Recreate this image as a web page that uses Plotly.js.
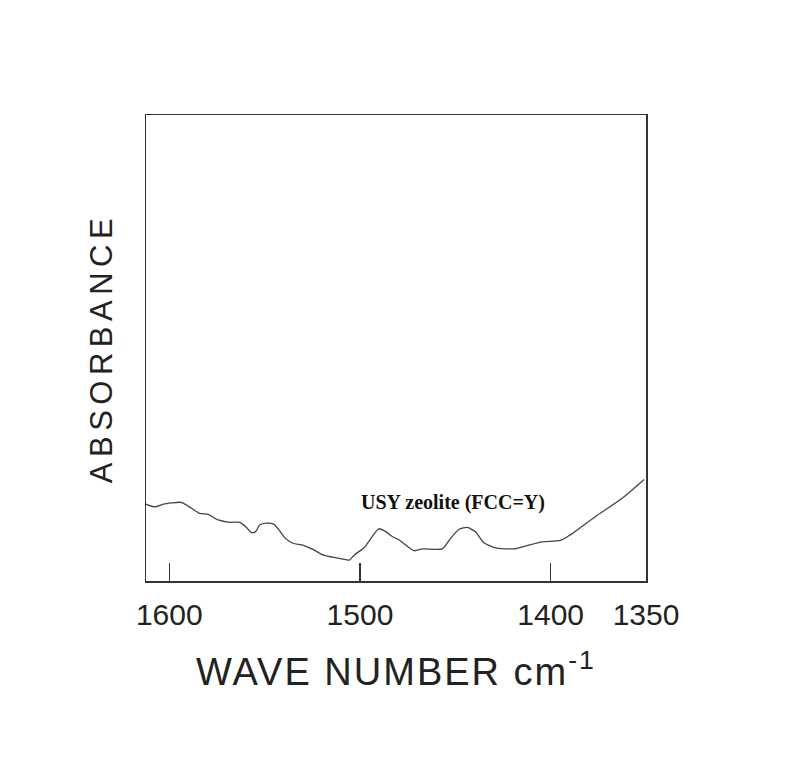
<!DOCTYPE html>
<html>
<head>
<meta charset="utf-8">
<script src="https://cdn.plot.ly/plotly-3.0.1.min.js"></script>
<style>
html,body{margin:0;padding:0;background:#fff;}
#chart{width:801px;height:758px;}
text.xtitle{letter-spacing:2px;}
text.ytitle{letter-spacing:5.5px;}
</style>
</head>
<body>
<div id="chart"></div>
<script>
const wavenumber = [1612.3,1607.5,1603.1,1594.4,1592.7,1588.3,1584.0,1579.6,1574.4,1568.3,1563.0,1559.5,1556.9,1554.7,1552.6,1549.1,1545.3,1542.7,1539.2,1535.2,1530.0,1524.7,1519.5,1514.3,1509.0,1505.5,1502.9,1497.7,1490.2,1486.4,1482.9,1479.4,1471.6,1467.2,1456.8,1452.4,1448.0,1443.7,1439.3,1435.0,1428.9,1419.3,1413.2,1404.5,1394.9,1389.7,1376.6,1362.7,1351.0];
const absorbance = [0.165,0.159,0.165,0.169,0.167,0.156,0.145,0.143,0.131,0.126,0.126,0.115,0.104,0.106,0.120,0.124,0.122,0.111,0.092,0.081,0.077,0.068,0.056,0.051,0.047,0.045,0.056,0.072,0.112,0.106,0.095,0.088,0.065,0.069,0.069,0.092,0.111,0.115,0.105,0.082,0.071,0.069,0.075,0.084,0.087,0.099,0.138,0.177,0.218];
const tickValues = [1600,1500,1400,1350];
const tickLabels = ['1600','1500','1400','1350'];
const sampleLabel = 'USY zeolite (FCC=Y)';
const xTitle = 'WAVE NUMBER cm<sup>-1</sup>';
const yTitle = 'ABSORBANCE';

const trace = {
  x: wavenumber, y: absorbance, type: 'scatter', mode: 'lines',
  line: {color: '#444', width: 1.3, shape: 'spline', smoothing: 0.6},
  hoverinfo: 'skip'
};
const layout = {
  width: 801, height: 758,
  margin: {l: 146, r: 155, t: 115, b: 177},
  paper_bgcolor: '#fff', plot_bgcolor: '#fff',
  showlegend: false,
  font: {family: 'Liberation Sans, Arial, sans-serif', color: '#222'},
  xaxis: {
    range: [1612.2, 1350], autorange: false,
    tickvals: tickValues, ticktext: tickLabels,
    ticks: 'inside', ticklen: 18, tickwidth: 1.5, tickcolor: '#333',
    tickfont: {size: 30, color: '#222'},
    ticklabelstandoff: 6,
    showline: true, mirror: true, linecolor: '#333', linewidth: 1.5,
    showgrid: false, zeroline: false,
    title: {text: xTitle, font: {size: 38, color: '#222'}, standoff: 29}
  },
  yaxis: {
    range: [0, 1], autorange: false,
    showticklabels: false, ticks: '',
    showline: true, mirror: true, linecolor: '#333', linewidth: 1.5,
    showgrid: false, zeroline: false,
    title: {text: yTitle, font: {size: 31, color: '#222'}, standoff: 22}
  },
  annotations: [{
    x: 1451.2, y: 0.169, xref: 'x', yref: 'y', text: sampleLabel, showarrow: false,
    font: {family: 'Liberation Serif, Times New Roman, serif', size: 20, color: '#111', weight: 'bold'}
  }]
};
Plotly.newPlot('chart', [trace], layout, {displayModeBar: false, staticPlot: true});
</script>
</body>
</html>
